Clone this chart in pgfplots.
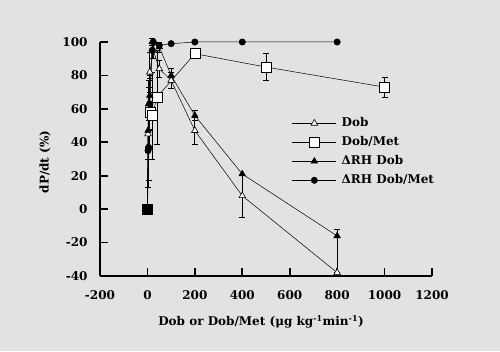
\documentclass[border=0pt]{standalone}
\usepackage{pgfplots}
\pgfplotsset{compat=1.18}
\usepackage{fontspec}
\setmainfont{DejaVu Serif}
\definecolor{bgc}{HTML}{E2E2E2}
\begin{document}
\begin{tikzpicture}[x=1pt,y=1pt]
\path[fill=bgc,use as bounding box] (0,0) rectangle (500,351);
\begin{axis}[
  at={(100pt,75pt)}, anchor=south west,
  scale only axis, width=332pt, height=234pt,
  xmin=-200, xmax=1200, ymin=-40, ymax=100,
  xtick={-200,0,...,1200}, ytick={-40,-20,...,100},
  axis lines=left,
  axis line style={-, line width=1.6pt},
  tick align=inside, major tick length=8pt,
  tick style={line width=1.6pt, black},
  /pgf/number format/assume math mode=true,
  /pgf/number format/set thousands separator={},
  ticklabel style={font=\bfseries\fontsize{12}{14}\selectfont},
  xticklabel style={yshift=-11pt},
  yticklabel style={xshift=-9pt},
  xlabel={\bfseries Dob or Dob/Met (μg kg\textsuperscript{-1}min\textsuperscript{-1})},
  ylabel={\bfseries dP/dt (\%)},
  label style={font=\bfseries\fontsize{12}{14}\selectfont},
  xlabel style={at={(axis description cs:0.485,-0.195)}, anchor=center},
  ylabel style={at={(axis description cs:-0.166,0.487)}, anchor=center, rotate=0},
  clip=false,
  legend style={at={(0.578,0.678)}, anchor=north west, draw=none, fill=none,
    font=\bfseries\fontsize{12}{14}\selectfont, row sep=7.5pt,
    inner sep=0pt, nodes={text height=9pt, text depth=2.5pt, inner sep=0pt},
    /tikz/every odd column/.append style={column sep=5pt}},
  legend cell align=left,
  legend image code/.code={\draw[mark repeat=2,mark phase=2] plot coordinates {(0pt,0pt)(22pt,0pt)(44pt,0pt)};},
  error bars/error bar style={line width=0.8pt, black},
  error bars/error mark options={rotate=90, mark size=3pt, line width=0.8pt, black},
]
% Dob
\addplot[black, line width=0.5pt, mark=triangle*, mark options={fill=white, line width=0.6pt}, mark size=3.8pt,
  error bars/.cd, y dir=both, y explicit]
  table[x=x, y=y, y error plus=ep, y error minus=em] {
x y ep em
0 0 0 0
2.5 45 15 15
5 62 15 15
10 82 12 12
25 95 5 5
50 84 5 5
100 77 5 5
200 47 8 8
400 8 13 13
800 -38 0 0
};
\addlegendentry{Dob}
% Dob/Met
\addplot[black, line width=0.5pt, mark=square*, mark options={fill=white, line width=0.6pt}, mark size=5pt,
  error bars/.cd, y dir=both, y explicit]
  table[x=x, y=y, y error plus=ep, y error minus=em] {
x y ep em
0 0 0 0
10 58 22 22
20 56 26 26
40 67 28 28
200 93 3 3
500 85 8 8
1000 73 6 6
};
\addlegendentry{Dob/Met}
% dRH Dob
\addplot[black, line width=0.5pt, mark=triangle*, mark options={fill=black}, mark size=3.8pt,
  error bars/.cd, y dir=both, y explicit]
  table[x=x, y=y, y error plus=ep, y error minus=em] {
x y ep em
0 0 0 0
2.5 47 10 10
5 63 10 10
10 68 10 10
20 100 2 2
50 97 3 3
100 80 4 4
200 56 3 3
400 21 0 0
800 -16 4 22
};
\addlegendentry{ΔRH Dob}
% dRH Dob/Met
\addplot[black, line width=0.5pt, mark=*, mark options={fill=black}, mark size=3.2pt,
  error bars/.cd, y dir=both, y explicit]
  table[x=x, y=y, y error plus=ep, y error minus=em] {
x y ep em
0 0 0 0
2.5 35 22 22
5 37 20 20
10 63 15 15
20 95 5 5
25 100 0 0
50 98 2 2
100 99 0 0
200 100 0 0
400 100 0 0
800 100 0 0
};
\addlegendentry{ΔRH Dob/Met}
\addplot[only marks, mark=square*, mark options={fill=black, draw=black}, mark size=4.5pt, forget plot] coordinates {(0,0)};
\end{axis}
\end{tikzpicture}
\end{document}
